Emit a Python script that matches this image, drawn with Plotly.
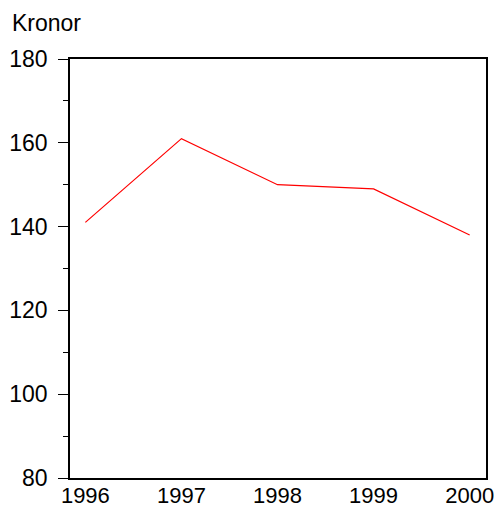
import plotly.graph_objects as go

years = [1996, 1997, 1998, 1999, 2000]
values = [141, 161, 150, 149, 138]
y_ticks = [80, 100, 120, 140, 160, 180]

fig = go.Figure()
fig.add_trace(go.Scatter(x=years, y=values, mode="lines",
                         line=dict(color="#ff0000", width=1.2)))

fig.update_layout(
    width=496, height=506,
    margin=dict(l=70, r=10, t=59, b=28, autoexpand=False),
    paper_bgcolor="white", plot_bgcolor="white",
    showlegend=False,
    font=dict(family="Liberation Sans, Arial, sans-serif", size=23, color="black"),
    xaxis=dict(range=[1995.84, 2000.17], tickvals=years, ticktext=[str(y) for y in years],
               showgrid=False, zeroline=False, showline=True, linecolor="black",
               linewidth=1.5, mirror=True, ticks="", automargin=False,
               tickfont=dict(size=22), ticklabelstandoff=-3),
    yaxis=dict(range=[80, 180], tickvals=y_ticks, showgrid=False, zeroline=False,
               showline=True, linecolor="black", linewidth=1.5, mirror=True,
               ticks="outside", ticklen=10, tickcolor="black", tickwidth=1,
               ticklabelstandoff=6, automargin=False,
               minor=dict(ticks="outside", ticklen=5, dtick=10, tick0=80,
                          tickcolor="black", tickwidth=1)),
    annotations=[dict(text="Kronor", xref="paper", yref="paper", x=0, y=1,
                      xshift=-60, yshift=36, xanchor="left", yanchor="middle",
                      showarrow=False, font=dict(size=23))],
)

fig.write_html(
    "out.html",
    config={"displayModeBar": False},
    post_script="document.body.style.margin='0';document.body.style.overflow='hidden';",
)
